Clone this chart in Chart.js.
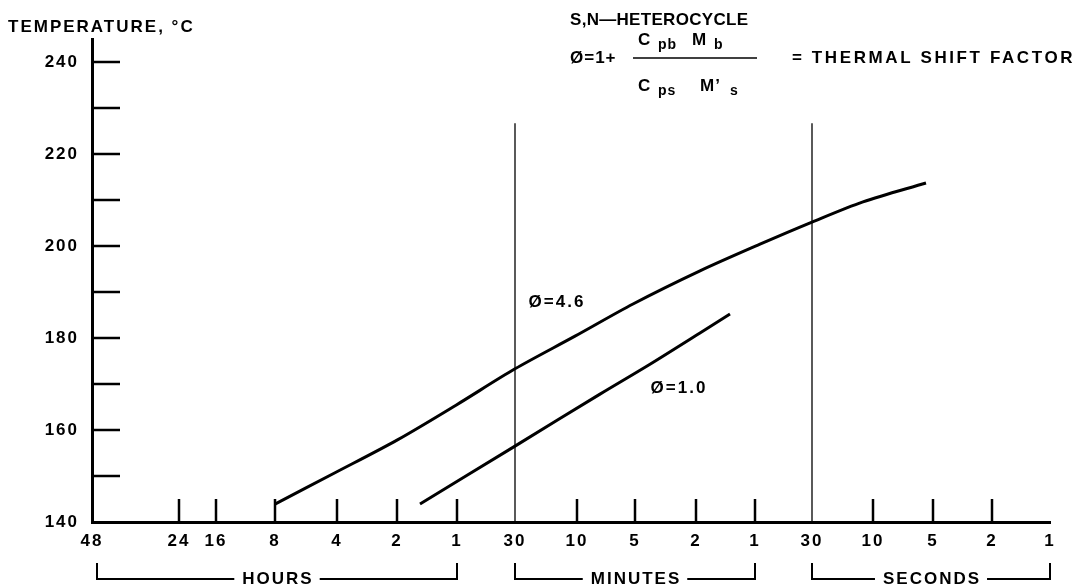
<!DOCTYPE html>
<html><head><meta charset="utf-8">
<script src="https://cdn.jsdelivr.net/npm/chart.js@4.4.0/dist/chart.umd.min.js"></script>
<style>html,body{margin:0;padding:0;background:#fff;}#wrap{width:1091px;height:587px;position:relative;}</style>
</head><body><div id="wrap"><canvas id="c" width="1091" height="587"></canvas></div>
<script>
// ---- data ----
const timeTickLabels = ['48','24','16','8','4','2','1','30','10','5','2','1','30','10','5','2','1'];
const timeTickPos    = [0,87,124,183,245,305,365,423,485,543,604,663,720,781,841,900,958]; // axis units
const timeTickNoMark = [0,7,12,16];
const tempTicks    = [140,150,160,170,180,190,200,210,220,230,240];
const tempLabelled = [140,160,180,200,220,240];
const phi46X = [183,243,305,364,423,483,541,608,668,720,771,834];
const phi46Y = [143.9,150.7,157.8,165.4,173.3,180.4,187.4,194.6,200.4,205.2,209.6,213.7];
const phi10X = [328,423,508,558,608,638];
const phi10Y = [143.9,156.5,167.8,174.3,181.1,185.2];
const unitBreakX = [423,720];         // 30 min, 30 s
const unitBreakTemp = [140,226.7];
const unitGroups = ['HOURS','MINUTES','SECONDS'];
const unitGroupFrom = [0,7,12];
const unitGroupTo = [6,11,16];
const curveLabels = ['\u00D8=4.6','\u00D8=1.0'];
const curveLabelX = [465,587];
const curveLabelY = [187.8,169.1];

const FONT = 'Liberation Sans, Arial, Helvetica, sans-serif';
const pts = (xs,ys)=>xs.map((x,i)=>({x:x,y:ys[i]}));

const datasets = [
  {data:pts(phi46X,phi46Y), borderColor:'#000', borderWidth:3, pointRadius:0, tension:0.3},
  {data:pts(phi10X,phi10Y), borderColor:'#000', borderWidth:3, pointRadius:0, tension:0.3}
];
unitBreakX.forEach(x=>datasets.push({data:unitBreakTemp.map(t=>({x:x,y:t})), borderColor:'#000', borderWidth:1.3, pointRadius:0}));

const spacing = {id:'spacing', beforeDraw(chart){ chart.ctx.letterSpacing='2px'; }};

const decor = {
  id:'decor',
  afterDraw(chart){
    const ctx=chart.ctx, xs=chart.scales.x, ys=chart.scales.y, ca=chart.chartArea;
    ctx.save();
    ctx.letterSpacing='2px';
    ctx.strokeStyle='#000'; ctx.fillStyle='#000';
    // inner tick marks y
    ctx.lineWidth=2.5;
    tempTicks.forEach(v=>{ if(v===140) return; const y=ys.getPixelForValue(v);
      ctx.beginPath(); ctx.moveTo(ca.left,y); ctx.lineTo(ca.left+28,y); ctx.stroke(); });
    // inner tick marks x
    timeTickPos.forEach((v,i)=>{ if(timeTickNoMark.includes(i)) return; const x=xs.getPixelForValue(v);
      ctx.beginPath(); ctx.moveTo(x,ca.bottom); ctx.lineTo(x,ca.bottom-23); ctx.stroke(); });
    // curve labels
    ctx.font='bold 17px '+FONT; ctx.textAlign='center'; ctx.textBaseline='middle';
    curveLabels.forEach((t,i)=>ctx.fillText(t, xs.getPixelForValue(curveLabelX[i]), ys.getPixelForValue(curveLabelY[i])));
    // unit brackets
    ctx.lineWidth=2;
    const by0=563, by1=579;
    unitGroups.forEach((g,i)=>{
      const x0=xs.getPixelForValue(timeTickPos[unitGroupFrom[i]])+(i===0?5:0);
      const x1=xs.getPixelForValue(timeTickPos[unitGroupTo[i]]);
      const w=ctx.measureText(g).width; const cx=(x0+x1)/2;
      ctx.beginPath(); ctx.moveTo(x0,by0); ctx.lineTo(x0,by1); ctx.lineTo(cx-w/2-7,by1);
      ctx.moveTo(cx+w/2+7,by1); ctx.lineTo(x1,by1); ctx.lineTo(x1,by0); ctx.stroke();
      ctx.fillText(g,cx+1,by1);
    });
    // titles
    ctx.textAlign='left';
    ctx.fillText('TEMPERATURE, \u00B0C', 8, 27);
    ctx.letterSpacing='0.3px';
    ctx.fillText('S,N\u2014HETEROCYCLE', 570, 20);
    ctx.letterSpacing='1px';
    ctx.fillText('\u00D8=1+', 570, 58);
    ctx.fillText('C', 638, 40); ctx.fillText('M', 692, 40);
    ctx.fillText('C', 638, 86); ctx.fillText('M\u2019', 700, 86);
    ctx.font='bold 14px '+FONT;
    ctx.fillText('pb', 658, 45); ctx.fillText('b', 714, 45);
    ctx.fillText('ps', 658, 91); ctx.fillText('s', 730, 91);
    ctx.lineWidth=1.5;
    ctx.beginPath(); ctx.moveTo(633,58); ctx.lineTo(757,58); ctx.stroke();
    ctx.font='bold 17px '+FONT;
    ctx.letterSpacing='2.6px';
    ctx.fillText('= THERMAL SHIFT FACTOR', 792, 58);
    ctx.restore();
  }
};

new Chart(document.getElementById('c'), {
  type:'line',
  data:{datasets:datasets},
  plugins:[spacing,decor],
  options:{
    responsive:false, animation:false,
    layout:{padding:{top:39,right:41,left:0,bottom:0}},
    plugins:{legend:{display:false}, tooltip:{enabled:false}},
    scales:{
      x:{type:'linear', min:0, max:958,
        afterBuildTicks(s){ s.ticks=timeTickPos.map(v=>({value:v})); },
        afterFit(s){ s.height=65; },
        grid:{display:false, drawTicks:false},
        border:{display:true, color:'#000', width:3},
        ticks:{autoSkip:false, maxRotation:0, padding:9, color:'#000',
          font:{family:FONT, size:17, weight:'bold'},
          callback(v,i){ return timeTickLabels[i]; }}
      },
      y:{type:'linear', min:140, max:245,
        afterBuildTicks(s){ s.ticks=tempTicks.map(v=>({value:v})); },
        afterFit(s){ s.width=92; },
        grid:{display:false, drawTicks:false},
        border:{display:true, color:'#000', width:3},
        ticks:{autoSkip:false, padding:13, color:'#000',
          font:{family:FONT, size:17, weight:'bold'},
          callback(v){ return tempLabelled.includes(v)?String(v):''; }}
      }
    }
  }
});
</script></body></html>
